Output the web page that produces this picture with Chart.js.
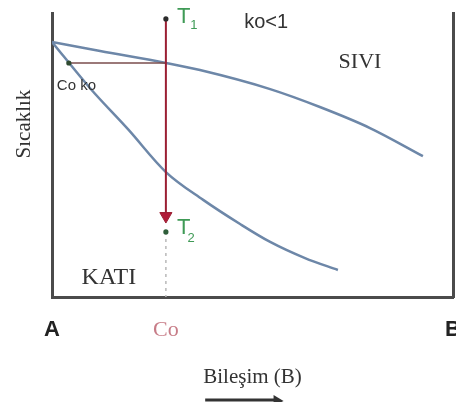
<!DOCTYPE html>
<html>
<head>
<meta charset="utf-8">
<script src="https://cdn.jsdelivr.net/npm/chart.js@4.4.0/dist/chart.umd.min.js"></script>
<style>
    body { margin: 0; background: #fff; }
    #wrap { width: 456px; height: 402px; }
</style>
</head>
<body>
<div id="wrap"><canvas id="myChart"></canvas></div>
<script>
// Bileşim ekseni: 0 = saf A, 100 = saf B. Sıcaklık göreli (0..100)
const sivilasmaX = [0, 12, 28.4, 36.9, 54.4, 66.8, 79.3, 92.5];
const sivilasmaY = [89.8, 86.6, 82.4, 79.9, 73.2, 66.9, 59.5, 49.6];
const katilasmaX = [0, 9.5, 19, 28.4, 37.7, 46.9, 54.4, 63.1, 71.3];
const katilasmaY = [89.8, 73.5, 59, 44.0, 34.2, 25.7, 19.4, 13.7, 9.5];

const Co = 28.4;        // alaşım bileşimi
const T1 = 97.9;        // başlangıç sıcaklığı
const T2 = 22.9;        // son sıcaklık
const okUcu = 28.5;     // ok başının merkezi
const cokoX = 4.2;      // Co·ko bileşimi
const cokoY = 82.4;     // sıvılaşma eğrisinin Co'daki sıcaklığı

const tickDegerleri = [0, Co, 100];
const tickEtiketleri = ['A', 'Co', 'B'];

const eksenRengi = '#4b4b4b';
const egriRengi = '#6d87a8';
const yesil = '#3f9a56';

function noktalar(xs, ys) {
    return xs.map((v, i) => ({ x: v, y: ys[i] }));
}

// diyagram üzerindeki yazılar ve alttaki ok
const etiketler = {
    id: 'etiketler',
    afterDraw(chart) {
        const { ctx, scales: { x, y } } = chart;
        const px = v => x.getPixelForValue(v);
        const py = v => y.getPixelForValue(v);

        function yaz(text, xp, yp, font, color, align) {
            ctx.font = font;
            ctx.fillStyle = color;
            ctx.textAlign = align || 'center';
            ctx.textBaseline = 'middle';
            ctx.fillText(text, xp, yp);
        }

        ctx.save();
        yaz('ko<1', px(53.4), py(96.8), '20px "Liberation Sans"', '#333', 'center');
        yaz('SIVI', px(76.8), py(82.7), '22px "Liberation Serif"', '#333', 'center');
        yaz('KATI', px(14.2), py(6.7), '24px "Liberation Serif"', '#333', 'center');
        yaz('Co ko', px(1.2), py(74.3), '15px "Liberation Sans"', '#333', 'left');

        // T1 ve T2
        yaz('T', px(31.2), py(98.6), '22px "Liberation Sans"', yesil, 'left');
        yaz('1', px(34.5), py(95.5), '13px "Liberation Sans"', yesil, 'left');
        yaz('T', px(31.2), py(24.3), '22px "Liberation Sans"', yesil, 'left');
        yaz('2', px(33.8), py(20.5), '13px "Liberation Sans"', yesil, 'left');

        // dikey eksen başlığı
        ctx.translate(24, py(60.9));
        ctx.rotate(-Math.PI / 2);
        yaz('Sıcaklık', 0, 0, '21px "Liberation Serif"', '#333', 'center');
        ctx.setTransform(1, 0, 0, 1, 0, 0);

        // bileşim yönünü gösteren ok
        const okY = chart.height - 2;
        const x1 = px(38.2), x2 = px(55.5);
        ctx.strokeStyle = '#333';
        ctx.lineWidth = 3;
        ctx.beginPath();
        ctx.moveTo(x1, okY);
        ctx.lineTo(x2, okY);
        ctx.stroke();
        ctx.fillStyle = '#333';
        ctx.beginPath();
        ctx.moveTo(x2 + 9, okY + 1);
        ctx.lineTo(x2 - 1, okY - 5);
        ctx.lineTo(x2 - 1, okY + 6);
        ctx.closePath();
        ctx.fill();
        ctx.restore();
    }
};

const ctx = document.getElementById('myChart');

new Chart(ctx, {
    type: 'scatter',
    data: {
        datasets: [{
            label: 'noktalar',
            data: [{ x: Co, y: T1 }, { x: Co, y: T2 }, { x: cokoX, y: cokoY }],
            pointRadius: 2.6,
            pointBackgroundColor: ['#2b2b2b', '#2f5e3a', '#2f4a30'],
            pointBorderWidth: 0,
            order: 0
        }, {
            label: 'soğuma',
            data: [{ x: Co, y: T1 }, { x: Co, y: okUcu }],
            showLine: true,
            borderColor: '#9b1f33',
            borderWidth: 2,
            pointStyle: ['circle', 'triangle'],
            pointRadius: [0, 7],
            pointRotation: [0, 180],
            pointBackgroundColor: '#b01c38',
            pointBorderColor: '#9b1f33',
            pointBorderWidth: 1,
            order: 1
        }, {
            label: 'Co ko',
            data: [{ x: cokoX, y: cokoY }, { x: Co, y: cokoY }],
            showLine: true,
            borderColor: '#7a4c4c',
            borderWidth: 1.5,
            pointRadius: 0,
            order: 2
        }, {
            label: 'Co',
            data: [{ x: Co, y: T2 }, { x: Co, y: 0 }],
            showLine: true,
            borderColor: '#b8b8b8',
            borderWidth: 1.5,
            borderDash: [3, 4],
            pointRadius: 0,
            order: 3
        }, {
            label: 'Sıvılaşma',
            data: noktalar(sivilasmaX, sivilasmaY),
            showLine: true,
            borderColor: egriRengi,
            borderWidth: 2.5,
            cubicInterpolationMode: 'monotone',
            pointRadius: 0,
            order: 4
        }, {
            label: 'Katılaşma',
            data: noktalar(katilasmaX, katilasmaY),
            showLine: true,
            borderColor: egriRengi,
            borderWidth: 2.5,
            cubicInterpolationMode: 'monotone',
            pointRadius: 0,
            order: 5
        }]
    },
    options: {
        responsive: true,
        maintainAspectRatio: false,
        animation: false,
        layout: { autoPadding: false, padding: { top: 13, left: 0, right: 0, bottom: 0 } },
        plugins: {
            legend: { display: false },
            tooltip: { enabled: false }
        },
        scales: {
            x: {
                type: 'linear',
                min: 0,
                max: 100,
                grid: { display: false, drawTicks: false },
                border: { display: true, color: eksenRengi, width: 3 },
                afterBuildTicks: s => { s.ticks = tickDegerleri.map(v => ({ value: v })); },
                afterFit: s => { s.height = 105; s.paddingLeft = 0; s.paddingRight = 0; },
                ticks: {
                    padding: 20,
                    autoSkip: false,
                    maxRotation: 0,
                    callback: (v, i) => tickEtiketleri[i],
                    color: c => c.index === 1 ? '#c77c87' : '#222',
                    font: c => c.index === 1
                        ? { family: '"Liberation Serif"', size: 22 }
                        : { family: '"Liberation Sans Narrow", "Liberation Sans"', size: 22, weight: 'bold' }
                },
                title: {
                    display: true,
                    text: 'Bileşim (B)',
                    color: '#333',
                    font: { family: '"Liberation Serif"', size: 21 },
                    padding: { top: 0, bottom: 12 }
                }
            },
            y: {
                type: 'linear',
                position: 'left',
                min: 0,
                max: 100,
                grid: { display: false, drawTicks: false },
                ticks: { display: false },
                border: { display: true, color: eksenRengi, width: 3 },
                afterFit: s => { s.width = 52; }
            },
            y2: {
                type: 'linear',
                position: 'right',
                min: 0,
                max: 100,
                grid: { display: false, drawTicks: false },
                ticks: { display: false },
                border: { display: true, color: eksenRengi, width: 3 },
                afterFit: s => { s.width = 3; }
            }
        }
    },
    plugins: [etiketler]
});
</script>
</body>
</html>
